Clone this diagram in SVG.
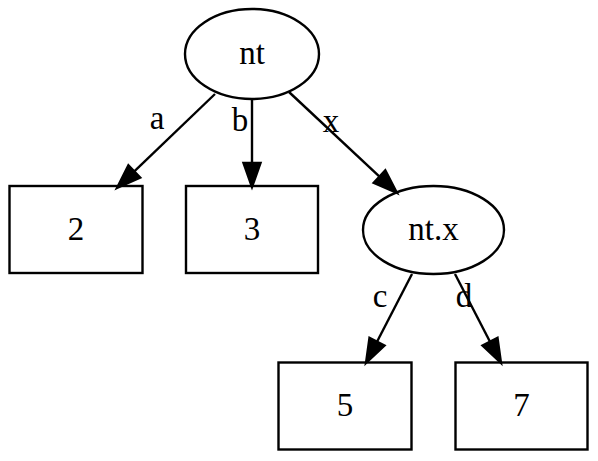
<svg xmlns="http://www.w3.org/2000/svg" width="598" height="461" viewBox="0 0 598 461">
<style>
.n{fill:none;stroke:#000;stroke-width:2.4}
.e{fill:none;stroke:#000;stroke-width:2.4}
.h{fill:#000;stroke:#000;stroke-width:2.4}
text{font-family:"Liberation Serif","Times New Roman",serif;font-size:33px;fill:#000}
.c{text-anchor:middle}
</style>
<rect width="598" height="461" fill="#fff"/>
<g id="edges">
<g id="e_a"><line class="e" x1="215" y1="94" x2="134.3" y2="171.4"/><polygon class="h" points="117,188 140.2,177.5 128.4,165.3"/><text x="157" y="129" class="c">a</text></g>
<g id="e_b"><line class="e" x1="252" y1="99" x2="252" y2="163"/><polygon class="h" points="252,187 243.5,163 260.5,163"/><text x="240" y="131" class="c">b</text></g>
<g id="e_x"><line class="e" x1="289" y1="92" x2="379.5" y2="176.6"/><polygon class="h" points="397,193 373.7,182.8 385.3,170.4"/><text x="331" y="132" class="c">x</text></g>
<g id="e_c"><line class="e" x1="412" y1="274" x2="377" y2="341.7"/><polygon class="h" points="366,363 384.5,345.6 369.5,337.8"/><text x="380" y="307" class="c">c</text></g>
<g id="e_d"><line class="e" x1="455" y1="274" x2="490" y2="341.7"/><polygon class="h" points="501,363 482.5,345.6 497.5,337.8"/><text x="464" y="307" class="c">d</text></g>
</g>
<g id="nt"><ellipse class="n" cx="252" cy="54" rx="67" ry="45"/><text x="252" y="64" class="c">nt</text></g>
<g id="n2"><rect class="n" x="9.5" y="186" width="133" height="87"/><text x="76" y="240" class="c">2</text></g>
<g id="n3"><rect class="n" x="186" y="186" width="132" height="87"/><text x="252" y="240" class="c">3</text></g>
<g id="ntx"><ellipse class="n" cx="433.5" cy="230" rx="70.5" ry="44"/><text x="433.5" y="240" class="c">nt.x</text></g>
<g id="n5"><rect class="n" x="278.5" y="362.5" width="133" height="87"/><text x="345" y="416" class="c">5</text></g>
<g id="n7"><rect class="n" x="455.5" y="362.5" width="132" height="87"/><text x="521.5" y="416" class="c">7</text></g>
</svg>
